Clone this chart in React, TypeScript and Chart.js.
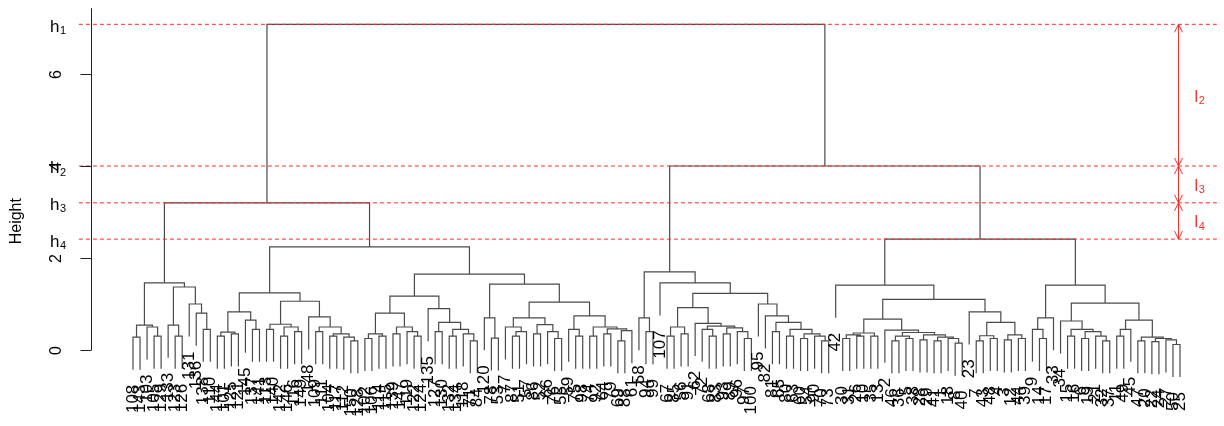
import React, { useEffect, useRef } from "react";
import { Chart, registerables } from "chart.js";

Chart.register(...registerables);

// ---- cut levels (h1..h4) and their labels ----
const cutHeights = [7.08, 4.0, 3.2, 2.41];
const cutSubs = ["1", "2", "3", "4"];
const gapSubs = ["2", "3", "4"];
const yTicks = [0, 2, 4, 6];
const yTickLabels = ["0", "2", "4", "6"];
const yTitle = "Height";

// ---- dendrogram sub-clusters (Newick: leaf labels, merge heights) ----
const A1 = "(((108,143):0.28,(103,(105,129):0.3):0.5):0.54,((133,(123,126):0.3):0.54,(131,(136,(138,110):0.45):0.8):1.0):1.37):1.46";
const A2aL = "(((144,101):0.3,(125,121):0.35):0.39,(145,(137,141):0.45):0.65):0.83";
const A2aR = "(((113,140):0.45,((142,146):0.3,(116,149):0.4):0.5):0.56,(148,((109,111):0.4,((104,117):0.3,(112,(150,128):0.2):0.28):0.35):0.5):0.72):1.06";
const A2bLa = "(((102,106):0.25,(114,115):0.3):0.35,((139,147):0.35,(119,(122,124):0.3):0.4):0.5):0.8";
const A2bLb = "(135,((127,130):0.4,((132,134):0.3,(118,(71,84):0.2):0.35):0.45):0.6):0.9";
const A2bRa = "(120,(78,53):0.26):0.7";
const A2bRb = "(((77,((87,51):0.3,57):0.4):0.5,((86,52):0.35,(66,(76,55):0.25):0.4):0.55):0.7,((59,(75,98):0.3):0.45,((74,92):0.3,((64,79):0.35,((69,88):0.2,61):0.42):0.46):0.5):0.74):1.04";
const B1a = "(58,(94,99):0.4):0.7";
const B1bba = "(((67,85):0.3,(56,91):0.35):0.5,(62,((72,(68,83):0.3):0.45,((93,89):0.35,(96,(97,100):0.25):0.4):0.48):0.52):0.58):0.92";
const B1bbb = "(95,(82,((81,65):0.4,((80,63):0.3,((60,54):0.25,(90,(70,73):0.2):0.3):0.35):0.45):0.6):0.74):1.0";
const B2XLa = "(((30,31):0.25,(26,10):0.3):0.33,(35,13):0.3):0.37";
const B2XLb = "(2,(((46,36):0.2,(5,38):0.25):0.3,((28,29):0.22,((41,1):0.2,(18,(8,40):0.15):0.25):0.28):0.33):0.38):0.43";
const B2XR = "(23,(((7,43):0.2,(48,4):0.25):0.31,((3,12):0.22,(44,39):0.25):0.33):0.6):0.83";
const B2bA = "((9,(14,17):0.25):0.45,33):0.7";
const B2bL = "(34,((15,16):0.3,((6,19):0.25,(21,(32,37):0.2):0.3):0.4):0.45):0.63";
const B2bR = "(((11,49):0.3,45):0.45,((47,20):0.2,((22,24):0.18,(27,(50,25):0.12):0.22):0.25):0.28):0.65";

const [h1, h2, h3, h4] = cutHeights;
const A2a = `(${A2aL},${A2aR}):1.24`;
const A2b = `((${A2bLa},${A2bLb}):1.17,(${A2bRa},${A2bRb}):1.43):1.65`;
const B1 = `(${B1a},(107,(${B1bba},${B1bbb}):1.23):1.46):1.7`;
const B2 = `((42,((${B2XLa},${B2XLb}):0.67,${B2XR}):1.1):1.41,(${B2bA},(${B2bL},${B2bR}):1.02):1.41):${h4}`;
const treeNewick = `((${A1},(${A2a},${A2b}):2.24):${h3},(${B1},${B2}):${h2}):${h1}`;

type TNode = { label?: string; height: number; children?: TNode[]; x?: number };

function parseNewick(s: string): TNode {
  let i = 0;
  const readNum = () => {
    const st = i;
    while (i < s.length && /[0-9.]/.test(s[i])) i++;
    return parseFloat(s.slice(st, i));
  };
  const node = (): TNode => {
    if (s[i] === "(") {
      i++;
      const children: TNode[] = [node()];
      while (s[i] === ",") {
        i++;
        children.push(node());
      }
      i++; // ')'
      let height = 0;
      if (s[i] === ":") {
        i++;
        height = readNum();
      }
      return { children, height };
    }
    const st = i;
    while (i < s.length && !/[,():]/.test(s[i])) i++;
    return { label: s.slice(st, i), height: 0 };
  };
  return node();
}

function buildLayout() {
  const root = parseNewick(treeNewick);
  let idx = 0;
  const place = (n: TNode) => {
    if (!n.children) {
      n.x = idx++;
      return;
    }
    n.children.forEach(place);
    n.x = n.children.reduce((s, c) => s + (c.x as number), 0) / n.children.length;
  };
  place(root);
  const hang = 0.1 * root.height;
  const segs: { x: number; y: number | null }[] = [];
  const leaves: { label: string; x: number; bottom: number }[] = [];
  const walk = (n: TNode) => {
    if (!n.children) return;
    const kids = n.children;
    const top = (c: TNode) => (c.children ? c.height : n.height - hang);
    const a = kids[0];
    const b = kids[kids.length - 1];
    segs.push({ x: a.x as number, y: top(a) });
    segs.push({ x: a.x as number, y: n.height });
    segs.push({ x: b.x as number, y: n.height });
    segs.push({ x: b.x as number, y: top(b) });
    segs.push({ x: b.x as number, y: null });
    for (const c of kids.slice(1, -1)) {
      segs.push({ x: c.x as number, y: n.height });
      segs.push({ x: c.x as number, y: top(c) });
      segs.push({ x: c.x as number, y: null });
    }
    for (const c of kids) {
      if (!c.children) leaves.push({ label: c.label as string, x: c.x as number, bottom: n.height - hang });
      else walk(c);
    }
  };
  walk(root);
  return { segs, leaves, nLeaves: idx };
}

const FONT = '"Liberation Sans", Arial, Helvetica, sans-serif';
const RED = "#ff2a2a";

export default function App() {
  const ref = useRef<HTMLCanvasElement | null>(null);

  useEffect(() => {
    document.body.style.margin = "0";
    const { segs, leaves } = buildLayout();
    const axisTopValue = 7.43;
    const arrowX = 148.67;
    const refFrom = -7.7;
    const refTo = 154.7;

    const decor = {
      id: "dendroDecor",
      afterDatasetsDraw(chart: any) {
        const { ctx, chartArea, scales } = chart;
        const xs = scales.x;
        const ys = scales.y;
        ctx.save();
        // leaf labels
        ctx.fillStyle = "#000";
        ctx.font = `17px ${FONT}`;
        ctx.textAlign = "right";
        ctx.textBaseline = "middle";
        for (const lf of leaves) {
          const px = xs.getPixelForValue(lf.x);
          const py = ys.getPixelForValue(lf.bottom) + 15;
          ctx.save();
          ctx.translate(px, py);
          ctx.rotate(-Math.PI / 2);
          ctx.fillText(lf.label, 0, 0);
          ctx.restore();
        }
        // y axis
        const ax = Math.round(chartArea.left) + 0.5;
        ctx.strokeStyle = "#222";
        ctx.lineWidth = 1;
        ctx.beginPath();
        ctx.moveTo(ax, ys.getPixelForValue(0));
        ctx.lineTo(ax, ys.getPixelForValue(axisTopValue));
        ctx.stroke();
        ctx.font = `16px ${FONT}`;
        ctx.textAlign = "center";
        ctx.textBaseline = "middle";
        yTicks.forEach((t, k) => {
          const py = Math.round(ys.getPixelForValue(t)) + 0.5;
          ctx.beginPath();
          ctx.moveTo(ax, py);
          ctx.lineTo(ax - 11, py);
          ctx.stroke();
          ctx.save();
          ctx.translate(ax - 35, py);
          ctx.rotate(-Math.PI / 2);
          ctx.fillText(yTickLabels[k], 0, 0);
          ctx.restore();
        });
        // axis title
        ctx.save();
        ctx.translate(ax - 75, ys.getPixelForValue(2.8));
        ctx.rotate(-Math.PI / 2);
        ctx.fillText(yTitle, 0, 0);
        ctx.restore();
        // h labels
        ctx.textAlign = "left";
        ctx.textBaseline = "alphabetic";
        cutHeights.forEach((h, k) => {
          const py = ys.getPixelForValue(h);
          ctx.font = `17px ${FONT}`;
          ctx.fillText("h", 50, py + 7.4);
          const w = ctx.measureText("h").width;
          ctx.font = `11px ${FONT}`;
          ctx.fillText(cutSubs[k], 50 + w + 0.5, py + 9.5);
        });
        // arrows between cut levels
        const axp = Math.round(xs.getPixelForValue(arrowX)) + 0.5;
        ctx.strokeStyle = RED;
        ctx.fillStyle = RED;
        for (let k = 0; k < cutHeights.length - 1; k++) {
          const yTop = ys.getPixelForValue(cutHeights[k]);
          const yBot = ys.getPixelForValue(cutHeights[k + 1]);
          ctx.beginPath();
          ctx.moveTo(axp, yTop);
          ctx.lineTo(axp, yBot);
          ctx.moveTo(axp - 4, yTop + 8);
          ctx.lineTo(axp, yTop);
          ctx.lineTo(axp + 4, yTop + 8);
          ctx.moveTo(axp - 4, yBot - 8);
          ctx.lineTo(axp, yBot);
          ctx.lineTo(axp + 4, yBot - 8);
          ctx.stroke();
          const mid = (yTop + yBot) / 2;
          ctx.font = `16px ${FONT}`;
          ctx.fillText("l", axp + 16, mid + 6.5);
          const w = ctx.measureText("l").width;
          ctx.font = `11px ${FONT}`;
          ctx.fillText(gapSubs[k], axp + 16 + w + 0.8, mid + 9);
        }
        ctx.restore();
      },
    };

    const refSets = cutHeights.map((h) => ({
      data: [
        { x: refFrom, y: h },
        { x: refTo, y: h },
      ],
      borderColor: RED,
      borderWidth: 1,
      borderDash: [4, 3],
      pointRadius: 0,
      clip: false as any,
    }));

    const chart = new Chart(ref.current as HTMLCanvasElement, {
      type: "line",
      data: {
        datasets: [
          ...refSets,
          {
            data: segs as any,
            borderColor: "#4a4a4a",
            borderWidth: 1.2,
            pointRadius: 0,
            spanGaps: false,
            tension: 0,
          },
        ],
      },
      options: {
        responsive: true,
        maintainAspectRatio: false,
        animation: false,
        devicePixelRatio: 1,
        layout: { padding: { left: 90.84, right: 22.92, top: 5, bottom: 7 } },
        scales: {
          x: { type: "linear", min: -6, max: 152, display: false },
          y: { type: "linear", min: -1.5, max: 7.5, display: false },
        },
        plugins: { legend: { display: false }, tooltip: { enabled: false } },
        events: [],
      },
      plugins: [decor],
    });
    return () => chart.destroy();
  }, []);

  return (
    <div style={{ width: 1224, height: 426, position: "relative", background: "#fff" }}>
      <canvas ref={ref} />
    </div>
  );
}
